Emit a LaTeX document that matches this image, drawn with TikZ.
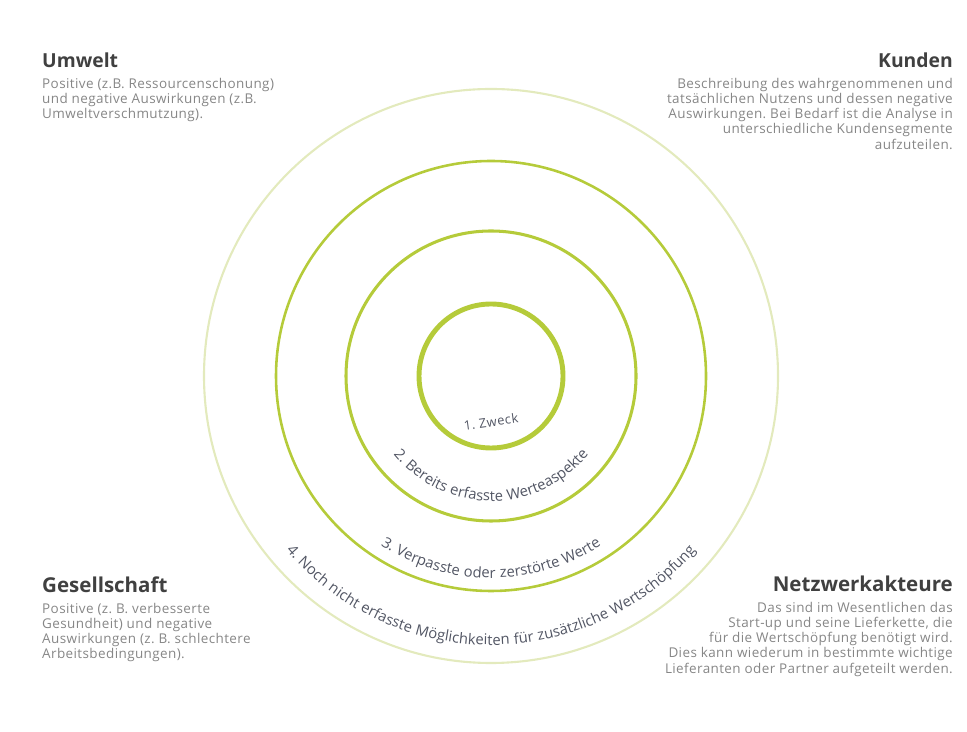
\documentclass[tikz,border=0pt]{standalone}
\usepackage{fontspec}
\usepackage{xcolor}
\usepackage{tikz}
\usetikzlibrary{positioning,decorations.text}
\setmainfont{Open Sans}
\newfontfamily\bodyfont{Open Sans}[LetterSpace=3]
\newfontfamily\ringfont{Open Sans}[LetterSpace=4]
\frenchspacing
\definecolor{ringgreen}{HTML}{B5CB3A}
\definecolor{ringpale}{HTML}{E3EABD}
\definecolor{headgray}{HTML}{404040}
\definecolor{bodygray}{HTML}{868686}
\definecolor{labelgray}{HTML}{525664}
\tikzstyle{heading} = [inner sep=0pt, text=headgray, font=\bfseries\fontsize{16.5}{19}\selectfont]
\tikzstyle{bigheading} = [heading, font=\bfseries\fontsize{17.5}{20}\selectfont]
\tikzstyle{body} = [inner sep=0pt, text=bodygray, font=\bodyfont\fontsize{11.5}{13}\selectfont]
\tikzstyle{ring} = [draw=ringgreen]
\tikzstyle{arclabel} = [inner sep=0pt, text=labelgray, font=\ringfont\fontsize{11}{13}\selectfont]
\newcommand{\arcfont}{\ringfont\fontsize{12.6}{14}\selectfont}

\begin{document}
\begin{tikzpicture}[x=0.3mm, y=0.3mm, node distance=8pt]
\useasboundingbox (0,0) rectangle (967,731);
\coordinate (mid) at (491,355);
\draw[ring, line width=4.2pt] (mid) circle[radius=72];
\draw[ring, line width=2.6pt] (mid) circle[radius=145];
\draw[ring, line width=2.2pt] (mid) circle[radius=215];
\draw[draw=ringpale, line width=1.8pt] (mid) circle[radius=287];

\node[arclabel, rotate=8] (zweck) at (491,309) {1. Zweck};
\path[decorate, decoration={text along path, text align=center, text color=labelgray,
    text={|\arcfont|2. Bereits erfasste Werteaspekte}}]
    ([shift={(195:125)}]mid) arc[start angle=195, end angle=345, radius=125];
\path[decorate, decoration={text along path, text align=center, text color=labelgray,
    text={|\arcfont|3. Verpasste oder zerstörte Werte}}]
    ([shift={(200:202)}]mid) arc[start angle=200, end angle=340, radius=202];
\path[decorate, decoration={text along path, text align=center, text color=labelgray,
    text={|\arcfont|4. Noch nicht erfasste Möglichkeiten für zusätzliche Wertschöpfung}}]
    ([shift={(190:269)}]mid) arc[start angle=190, end angle=350, radius=269];

\node[heading, anchor=base west] (umwelt) at (42,663) {Umwelt};
\node[body, below=of umwelt.south west, anchor=north west, align=left] (umwelttext)
    {Positive (z.B. Ressourcenschonung)\\und negative Auswirkungen (z.B.\\Umweltverschmutzung).};
\node[heading, anchor=base east] (kunden) at (953,663) {Kunden};
\node[body, below=of kunden.south east, anchor=north east, align=right] (kundentext)
    {Beschreibung des wahrgenommenen und\\tatsächlichen Nutzens und dessen negative\\Auswirkungen. Bei Bedarf ist die Analyse in\\unterschiedliche Kundensegmente\\aufzuteilen.};
\node[bigheading, anchor=base west] (gesellschaft) at (42,138) {Gesellschaft};
\node[body, below=of gesellschaft.south west, anchor=north west, align=left] (gesellschafttext)
    {Positive (z. B. verbesserte\\Gesundheit) und negative\\Auswirkungen (z. B. schlechtere\\Arbeitsbedingungen).};
\node[bigheading, anchor=base east] (netzwerk) at (953,139) {Netzwerkakteure};
\node[body, below=of netzwerk.south east, anchor=north east, align=right] (netzwerktext)
    {Das sind im Wesentlichen das\\Start-up und seine Lieferkette, die\\für die Wertschöpfung benötigt wird.\\Dies kann wiederum in bestimmte wichtige\\Lieferanten oder Partner aufgeteilt werden.};
\end{tikzpicture}
\end{document}
